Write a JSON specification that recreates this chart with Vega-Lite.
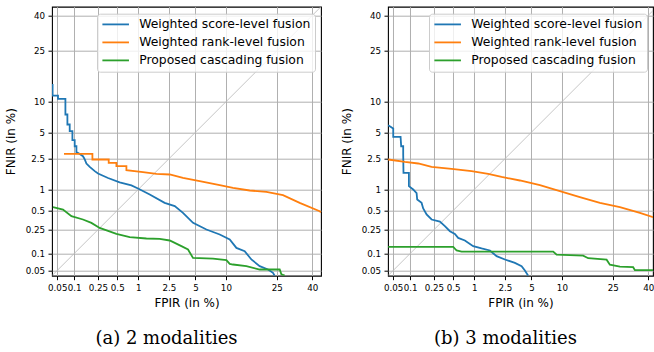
{
  "$schema": "https://vega.github.io/schema/vega-lite/v6.json",
  "background": "white",
  "padding": {"left": 3, "top": 5.7, "right": 0, "bottom": 0},
  "datasets": {
    "a": [
      {"s": "Weighted score-level fusion", "x": 0.041, "y": 14.2},
      {"s": "Weighted score-level fusion", "x": 0.041, "y": 11.3},
      {"s": "Weighted score-level fusion", "x": 0.0516, "y": 11.3},
      {"s": "Weighted score-level fusion", "x": 0.0516, "y": 10.6},
      {"s": "Weighted score-level fusion", "x": 0.070, "y": 10.6},
      {"s": "Weighted score-level fusion", "x": 0.070, "y": 7.49},
      {"s": "Weighted score-level fusion", "x": 0.076, "y": 7.49},
      {"s": "Weighted score-level fusion", "x": 0.076, "y": 5.97},
      {"s": "Weighted score-level fusion", "x": 0.0836, "y": 5.97},
      {"s": "Weighted score-level fusion", "x": 0.0836, "y": 5.13},
      {"s": "Weighted score-level fusion", "x": 0.0934, "y": 5.13},
      {"s": "Weighted score-level fusion", "x": 0.0934, "y": 4.07},
      {"s": "Weighted score-level fusion", "x": 0.1025, "y": 4.07},
      {"s": "Weighted score-level fusion", "x": 0.1025, "y": 3.47},
      {"s": "Weighted score-level fusion", "x": 0.1095, "y": 3.47},
      {"s": "Weighted score-level fusion", "x": 0.1095, "y": 2.97},
      {"s": "Weighted score-level fusion", "x": 0.121, "y": 2.87},
      {"s": "Weighted score-level fusion", "x": 0.141, "y": 2.67},
      {"s": "Weighted score-level fusion", "x": 0.151, "y": 2.45},
      {"s": "Weighted score-level fusion", "x": 0.161, "y": 2.17},
      {"s": "Weighted score-level fusion", "x": 0.183, "y": 1.96},
      {"s": "Weighted score-level fusion", "x": 0.222, "y": 1.73},
      {"s": "Weighted score-level fusion", "x": 0.2515, "y": 1.61},
      {"s": "Weighted score-level fusion", "x": 0.36, "y": 1.41},
      {"s": "Weighted score-level fusion", "x": 0.542, "y": 1.24},
      {"s": "Weighted score-level fusion", "x": 0.799, "y": 1.13},
      {"s": "Weighted score-level fusion", "x": 0.994, "y": 1.03},
      {"s": "Weighted score-level fusion", "x": 1.41, "y": 0.848},
      {"s": "Weighted score-level fusion", "x": 2.20, "y": 0.642},
      {"s": "Weighted score-level fusion", "x": 2.91, "y": 0.576},
      {"s": "Weighted score-level fusion", "x": 3.61, "y": 0.458},
      {"s": "Weighted score-level fusion", "x": 4.70, "y": 0.321},
      {"s": "Weighted score-level fusion", "x": 6.42, "y": 0.253},
      {"s": "Weighted score-level fusion", "x": 8.69, "y": 0.209},
      {"s": "Weighted score-level fusion", "x": 10.78, "y": 0.1725},
      {"s": "Weighted score-level fusion", "x": 12.3, "y": 0.1248},
      {"s": "Weighted score-level fusion", "x": 14.48, "y": 0.1099},
      {"s": "Weighted score-level fusion", "x": 16.29, "y": 0.0786},
      {"s": "Weighted score-level fusion", "x": 18.73, "y": 0.0596},
      {"s": "Weighted score-level fusion", "x": 21.54, "y": 0.052},
      {"s": "Weighted score-level fusion", "x": 23.42, "y": 0.0451},
      {"s": "Weighted score-level fusion", "x": 24.1, "y": 0.04},
      {"s": "Weighted rank-level fusion", "x": 0.0661, "y": 2.84},
      {"s": "Weighted rank-level fusion", "x": 0.2028, "y": 2.84},
      {"s": "Weighted rank-level fusion", "x": 0.2028, "y": 2.445},
      {"s": "Weighted rank-level fusion", "x": 0.3686, "y": 2.445},
      {"s": "Weighted rank-level fusion", "x": 0.3686, "y": 2.21},
      {"s": "Weighted rank-level fusion", "x": 0.4852, "y": 2.21},
      {"s": "Weighted rank-level fusion", "x": 0.4852, "y": 2.003},
      {"s": "Weighted rank-level fusion", "x": 0.677, "y": 2.003},
      {"s": "Weighted rank-level fusion", "x": 0.677, "y": 1.778},
      {"s": "Weighted rank-level fusion", "x": 1.154, "y": 1.675},
      {"s": "Weighted rank-level fusion", "x": 1.72, "y": 1.592},
      {"s": "Weighted rank-level fusion", "x": 2.55, "y": 1.564},
      {"s": "Weighted rank-level fusion", "x": 3.61, "y": 1.413},
      {"s": "Weighted rank-level fusion", "x": 5.51, "y": 1.281},
      {"s": "Weighted rank-level fusion", "x": 8.69, "y": 1.137},
      {"s": "Weighted rank-level fusion", "x": 11.5, "y": 1.049},
      {"s": "Weighted rank-level fusion", "x": 15.83, "y": 0.968},
      {"s": "Weighted rank-level fusion", "x": 20.97, "y": 0.924},
      {"s": "Weighted rank-level fusion", "x": 27.12, "y": 0.828},
      {"s": "Weighted rank-level fusion", "x": 33.86, "y": 0.642},
      {"s": "Weighted rank-level fusion", "x": 43.46, "y": 0.487},
      {"s": "Weighted rank-level fusion", "x": 44.1, "y": 0.47},
      {"s": "Proposed cascading fusion", "x": 0.0417, "y": 0.557},
      {"s": "Proposed cascading fusion", "x": 0.0634, "y": 0.516},
      {"s": "Proposed cascading fusion", "x": 0.0897, "y": 0.407},
      {"s": "Proposed cascading fusion", "x": 0.141, "y": 0.362},
      {"s": "Proposed cascading fusion", "x": 0.1951, "y": 0.321},
      {"s": "Proposed cascading fusion", "x": 0.267, "y": 0.268},
      {"s": "Proposed cascading fusion", "x": 0.4852, "y": 0.214},
      {"s": "Proposed cascading fusion", "x": 0.755, "y": 0.1885},
      {"s": "Proposed cascading fusion", "x": 1.277, "y": 0.1793},
      {"s": "Proposed cascading fusion", "x": 1.898, "y": 0.1766},
      {"s": "Proposed cascading fusion", "x": 2.55, "y": 0.166},
      {"s": "Proposed cascading fusion", "x": 3.465, "y": 0.1333},
      {"s": "Proposed cascading fusion", "x": 4.119, "y": 0.1173},
      {"s": "Proposed cascading fusion", "x": 4.695, "y": 0.0839},
      {"s": "Proposed cascading fusion", "x": 7.46, "y": 0.0812},
      {"s": "Proposed cascading fusion", "x": 10.1, "y": 0.0763},
      {"s": "Proposed cascading fusion", "x": 10.78, "y": 0.0656},
      {"s": "Proposed cascading fusion", "x": 11.5, "y": 0.0639},
      {"s": "Proposed cascading fusion", "x": 14.97, "y": 0.0596},
      {"s": "Proposed cascading fusion", "x": 18.73, "y": 0.052},
      {"s": "Proposed cascading fusion", "x": 25.96, "y": 0.052},
      {"s": "Proposed cascading fusion", "x": 26.55, "y": 0.0426},
      {"s": "Proposed cascading fusion", "x": 27.74, "y": 0.04}
    ],
    "b": [
      {"s": "Weighted score-level fusion", "x": 0.0403, "y": 5.88},
      {"s": "Weighted score-level fusion", "x": 0.05, "y": 5.45},
      {"s": "Weighted score-level fusion", "x": 0.05, "y": 4.43},
      {"s": "Weighted score-level fusion", "x": 0.0677, "y": 4.43},
      {"s": "Weighted score-level fusion", "x": 0.0694, "y": 3.47},
      {"s": "Weighted score-level fusion", "x": 0.0754, "y": 3.47},
      {"s": "Weighted score-level fusion", "x": 0.0754, "y": 2.82},
      {"s": "Weighted score-level fusion", "x": 0.0763, "y": 1.64},
      {"s": "Weighted score-level fusion", "x": 0.0954, "y": 1.64},
      {"s": "Weighted score-level fusion", "x": 0.0954, "y": 1.104},
      {"s": "Weighted score-level fusion", "x": 0.1129, "y": 1.0},
      {"s": "Weighted score-level fusion", "x": 0.1287, "y": 0.885},
      {"s": "Weighted score-level fusion", "x": 0.1317, "y": 0.7185},
      {"s": "Weighted score-level fusion", "x": 0.156, "y": 0.642},
      {"s": "Weighted score-level fusion", "x": 0.166, "y": 0.533},
      {"s": "Weighted score-level fusion", "x": 0.1892, "y": 0.433},
      {"s": "Weighted score-level fusion", "x": 0.2294, "y": 0.362},
      {"s": "Weighted score-level fusion", "x": 0.3105, "y": 0.335},
      {"s": "Weighted score-level fusion", "x": 0.371, "y": 0.285},
      {"s": "Weighted score-level fusion", "x": 0.4438, "y": 0.2375},
      {"s": "Weighted score-level fusion", "x": 0.528, "y": 0.214},
      {"s": "Weighted score-level fusion", "x": 0.589, "y": 0.1835},
      {"s": "Weighted score-level fusion", "x": 0.735, "y": 0.166},
      {"s": "Weighted score-level fusion", "x": 0.968, "y": 0.1333},
      {"s": "Weighted score-level fusion", "x": 1.247, "y": 0.122},
      {"s": "Weighted score-level fusion", "x": 1.597, "y": 0.1129},
      {"s": "Weighted score-level fusion", "x": 1.95, "y": 0.090},
      {"s": "Weighted score-level fusion", "x": 2.497, "y": 0.0786},
      {"s": "Weighted score-level fusion", "x": 3.245, "y": 0.0683},
      {"s": "Weighted score-level fusion", "x": 3.868, "y": 0.0596},
      {"s": "Weighted score-level fusion", "x": 4.217, "y": 0.05},
      {"s": "Weighted score-level fusion", "x": 4.598, "y": 0.04},
      {"s": "Weighted rank-level fusion", "x": 0.0403, "y": 2.445},
      {"s": "Weighted rank-level fusion", "x": 0.0809, "y": 2.277},
      {"s": "Weighted rank-level fusion", "x": 0.1369, "y": 2.171},
      {"s": "Weighted rank-level fusion", "x": 0.2294, "y": 1.962},
      {"s": "Weighted rank-level fusion", "x": 0.4715, "y": 1.848},
      {"s": "Weighted rank-level fusion", "x": 0.918, "y": 1.726},
      {"s": "Weighted rank-level fusion", "x": 1.518, "y": 1.592},
      {"s": "Weighted rank-level fusion", "x": 2.263, "y": 1.456},
      {"s": "Weighted rank-level fusion", "x": 3.699, "y": 1.308},
      {"s": "Weighted rank-level fusion", "x": 6.07, "y": 1.137},
      {"s": "Weighted rank-level fusion", "x": 9.556, "y": 0.946},
      {"s": "Weighted rank-level fusion", "x": 14.25, "y": 0.775},
      {"s": "Weighted rank-level fusion", "x": 20.11, "y": 0.642},
      {"s": "Weighted rank-level fusion", "x": 27.45, "y": 0.557},
      {"s": "Weighted rank-level fusion", "x": 35.82, "y": 0.458},
      {"s": "Weighted rank-level fusion", "x": 42.27, "y": 0.393},
      {"s": "Proposed cascading fusion", "x": 0.0403, "y": 0.1297},
      {"s": "Proposed cascading fusion", "x": 0.5, "y": 0.1297},
      {"s": "Proposed cascading fusion", "x": 0.559, "y": 0.1129},
      {"s": "Proposed cascading fusion", "x": 0.659, "y": 0.1078},
      {"s": "Proposed cascading fusion", "x": 8.21, "y": 0.1078},
      {"s": "Proposed cascading fusion", "x": 8.865, "y": 0.0958},
      {"s": "Proposed cascading fusion", "x": 15.18, "y": 0.0919},
      {"s": "Proposed cascading fusion", "x": 16.51, "y": 0.0829},
      {"s": "Proposed cascading fusion", "x": 22.5, "y": 0.0779},
      {"s": "Proposed cascading fusion", "x": 23.78, "y": 0.0634},
      {"s": "Proposed cascading fusion", "x": 27.45, "y": 0.0584},
      {"s": "Proposed cascading fusion", "x": 32.75, "y": 0.0572},
      {"s": "Proposed cascading fusion", "x": 33.5, "y": 0.0506},
      {"s": "Proposed cascading fusion", "x": 42.2, "y": 0.0506}
    ],
    "diag": [
      {"x": 0.04, "y": 0.04},
      {"x": 44.1, "y": 44.1}
    ]
  },
  "hconcat": [
    {
      "width": 269,
      "height": 269,
      "title": {"text": "(a) 2 modalities", "orient": "bottom", "anchor": "middle", "frame": "group", "dx": -20, "font": "DejaVu Serif", "fontSize": 18, "fontWeight": "normal", "color": "black", "offset": 21},
      "layer": [
        {
          "data": {"name": "diag"},
          "mark": {"type": "line", "color": "#c0c0c0", "strokeWidth": 0.9, "clip": true},
          "encoding": {
            "x": {"field": "x", "type": "quantitative", "title": "FPIR (in %)",
              "scale": {"type": "log", "nice": false, "domain": [0.04, 0.05, 0.1, 0.25, 0.5, 1, 2.5, 5, 10, 15, 25, 40, 44.1], "range": [0, 5.23, 22.05, 45.83, 65.24, 86.19, 116.94, 143.4, 173.9, 194.48, 224.87, 260.23, 269]},
              "axis": {"values": [0.05, 0.1, 0.25, 0.5, 1, 2.5, 5, 10, 25, 40], "format": "~g"}},
            "y": {"field": "y", "type": "quantitative", "title": "FNIR (in %)",
              "scale": {"type": "log", "nice": false, "domain": [0.04, 0.05, 0.1, 0.25, 0.5, 1, 2.5, 5, 10, 15, 25, 40, 44.1], "range": [269, 263.77, 246.95, 223.17, 203.76, 182.81, 152.06, 125.6, 95.1, 74.52, 44.13, 8.77, 0]},
              "axis": {"values": [0.05, 0.1, 0.25, 0.5, 1, 2.5, 5, 10, 25, 40], "format": "~g"}}
          }
        },
        {
          "data": {"name": "a"},
          "mark": {"type": "line", "strokeWidth": 1.8, "clip": true},
          "encoding": {
            "x": {"field": "x", "type": "quantitative", "title": "FPIR (in %)",
              "scale": {"type": "log", "nice": false, "domain": [0.04, 0.05, 0.1, 0.25, 0.5, 1, 2.5, 5, 10, 15, 25, 40, 44.1], "range": [0, 5.23, 22.05, 45.83, 65.24, 86.19, 116.94, 143.4, 173.9, 194.48, 224.87, 260.23, 269]},
              "axis": {"values": [0.05, 0.1, 0.25, 0.5, 1, 2.5, 5, 10, 25, 40], "format": "~g"}},
            "y": {"field": "y", "type": "quantitative", "title": "FNIR (in %)",
              "scale": {"type": "log", "nice": false, "domain": [0.04, 0.05, 0.1, 0.25, 0.5, 1, 2.5, 5, 10, 15, 25, 40, 44.1], "range": [269, 263.77, 246.95, 223.17, 203.76, 182.81, 152.06, 125.6, 95.1, 74.52, 44.13, 8.77, 0]},
              "axis": {"values": [0.05, 0.1, 0.25, 0.5, 1, 2.5, 5, 10, 25, 40], "format": "~g"}},
            "color": {"field": "s", "type": "nominal",
              "scale": {"domain": ["Weighted score-level fusion", "Weighted rank-level fusion", "Proposed cascading fusion"], "range": ["#1f77b4", "#ff7f0e", "#2ca02c"]},
              "legend": {"title": null, "orient": "top-right", "offset": 6.5, "padding": 4.2, "symbolType": "M-1,0H4", "symbolSize": 113, "symbolStrokeWidth": 1.8, "labelOffset": 25, "rowPadding": 5, "fillColor": "rgba(255,255,255,0.8)", "strokeColor": "#cccccc", "cornerRadius": 3, "labelFont": "DejaVu Sans", "labelFontSize": 12.4, "labelColor": "black", "labelLimit": 400}},
            "order": {"value": null}
          }
        }
      ]
    },
    {
      "width": 265,
      "height": 269,
      "title": {"text": "(b) 3 modalities", "orient": "bottom", "anchor": "middle", "frame": "group", "dx": -15, "font": "DejaVu Serif", "fontSize": 18, "fontWeight": "normal", "color": "black", "offset": 21},
      "layer": [
        {
          "data": {"name": "diag"},
          "mark": {"type": "line", "color": "#c0c0c0", "strokeWidth": 0.9, "clip": true},
          "encoding": {
            "x": {"field": "x", "type": "quantitative", "title": "FPIR (in %)",
              "scale": {"type": "log", "nice": false, "domain": [0.04, 0.05, 0.1, 0.25, 0.5, 1, 2.5, 5, 10, 15, 25, 40, 42.2], "range": [0, 5.23, 22.05, 45.83, 65.24, 86.19, 116.94, 143.4, 173.9, 194.48, 224.87, 260.23, 265]},
              "axis": {"values": [0.05, 0.1, 0.25, 0.5, 1, 2.5, 5, 10, 25, 40], "format": "~g"}},
            "y": {"field": "y", "type": "quantitative", "title": "FNIR (in %)",
              "scale": {"type": "log", "nice": false, "domain": [0.04, 0.05, 0.1, 0.25, 0.5, 1, 2.5, 5, 10, 15, 25, 40, 44.1], "range": [269, 263.77, 246.95, 223.17, 203.76, 182.81, 152.06, 125.6, 95.1, 74.52, 44.13, 8.77, 0]},
              "axis": {"values": [0.05, 0.1, 0.25, 0.5, 1, 2.5, 5, 10, 25, 40], "format": "~g"}}
          }
        },
        {
          "data": {"name": "b"},
          "mark": {"type": "line", "strokeWidth": 1.8, "clip": true},
          "encoding": {
            "x": {"field": "x", "type": "quantitative", "title": "FPIR (in %)",
              "scale": {"type": "log", "nice": false, "domain": [0.04, 0.05, 0.1, 0.25, 0.5, 1, 2.5, 5, 10, 15, 25, 40, 42.2], "range": [0, 5.23, 22.05, 45.83, 65.24, 86.19, 116.94, 143.4, 173.9, 194.48, 224.87, 260.23, 265]},
              "axis": {"values": [0.05, 0.1, 0.25, 0.5, 1, 2.5, 5, 10, 25, 40], "format": "~g"}},
            "y": {"field": "y", "type": "quantitative", "title": "FNIR (in %)",
              "scale": {"type": "log", "nice": false, "domain": [0.04, 0.05, 0.1, 0.25, 0.5, 1, 2.5, 5, 10, 15, 25, 40, 44.1], "range": [269, 263.77, 246.95, 223.17, 203.76, 182.81, 152.06, 125.6, 95.1, 74.52, 44.13, 8.77, 0]},
              "axis": {"values": [0.05, 0.1, 0.25, 0.5, 1, 2.5, 5, 10, 25, 40], "format": "~g"}},
            "color": {"field": "s", "type": "nominal",
              "scale": {"domain": ["Weighted score-level fusion", "Weighted rank-level fusion", "Proposed cascading fusion"], "range": ["#1f77b4", "#ff7f0e", "#2ca02c"]},
              "legend": {"title": null, "orient": "top-right", "offset": 6.5, "padding": 4.2, "symbolType": "M-1,0H4", "symbolSize": 113, "symbolStrokeWidth": 1.8, "labelOffset": 25, "rowPadding": 5, "fillColor": "rgba(255,255,255,0.8)", "strokeColor": "#cccccc", "cornerRadius": 3, "labelFont": "DejaVu Sans", "labelFontSize": 12.4, "labelColor": "black", "labelLimit": 400}},
            "order": {"value": null}
          }
        }
      ]
    }
  ],
  "spacing": 17,
  "resolve": {"scale": {"x": "independent", "y": "independent", "color": "independent"}, "legend": {"color": "independent"}},
  "config": {
    "view": {"stroke": "black", "strokeWidth": 1.1},
    "axis": {"domain": false, "grid": true, "gridColor": "#b0b0b0", "gridWidth": 1, "tickColor": "black", "tickSize": 4, "tickWidth": 1, "labelFont": "DejaVu Sans", "labelFontSize": 8.7, "labelColor": "black", "titleFont": "DejaVu Sans", "titleFontSize": 12, "titleFontWeight": "normal", "titleColor": "black", "labelOverlap": false, "labelFlush": false, "labelBound": false, "labelPadding": 3.5},
    "axisY": {"minExtent": 28, "maxExtent": 28, "titlePadding": 6.8},
    "axisX": {"titlePadding": 6}
  }
}
